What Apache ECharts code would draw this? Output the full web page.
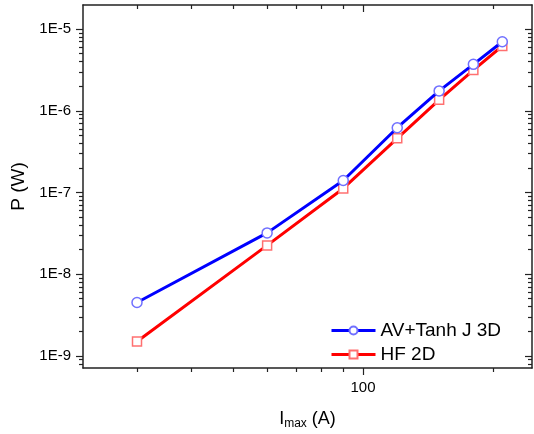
<!DOCTYPE html>
<html>
<head>
<meta charset="utf-8">
<script src="https://cdn.jsdelivr.net/npm/echarts@6/dist/echarts.min.js"></script>
<style>
    html, body {margin: 0; padding: 0; background: #fff;}
    #chart {width: 534px; height: 434px;}
</style>
</head>
<body>
<div id="chart"></div>
<script>
// 横轴: I_max (A)
var currents = [30, 60, 90, 120, 150, 180, 210];
// 纵轴: P (W)
var powerAV = [4.5e-9, 3.2e-8, 1.4e-7, 6.2e-7, 1.75e-6, 3.7e-6, 7.0e-6];
var powerHF = [1.5e-9, 2.25e-8, 1.12e-7, 4.6e-7, 1.36e-6, 3.15e-6, 6.2e-6];
var seriesNames = ['AV+Tanh J 3D', 'HF 2D'];

// 刻度
var xMajorTicks = [100];
var xMinorTicks = [30, 40, 50, 60, 70, 80, 90, 200];
var yMajorTicks = [1e-9, 1e-8, 1e-7, 1e-6, 1e-5];
var yDecades = [1e-10, 1e-9, 1e-8, 1e-7, 1e-6, 1e-5];
var yMinorSteps = [2, 3, 4, 5, 6, 7, 8, 9];

var xRange = [22.5, 246];
var yRange = [7.1e-10, 1.97e-5];
var font = 'Arial, "Liberation Sans", sans-serif';

var yMinorTicks = [];
yDecades.forEach(function (d) {
    yMinorSteps.forEach(function (s) {
        yMinorTicks.push(d * s);
    });
});

/**
 * 一条坐标轴(只画线和刻度)
 */
function makeAxis(range, position, ticks, len, inside, showLine) {
    return {
        type: 'log',
        logBase: 10,
        position: position,
        min: range[0],
        max: range[1],
        axisLine: {show: showLine, onZero: false, lineStyle: {color: '#222', width: 1.5}},
        axisTick: {show: true, inside: inside, length: len, customValues: ticks,
            lineStyle: {color: '#222', width: 1.2}},
        axisLabel: {show: false},
        splitLine: {show: false}
    };
}

var xMain = makeAxis(xRange, 'bottom', xMajorTicks, 7, false, true);
xMain.axisLabel = {
    show: true, customValues: xMajorTicks, margin: 12,
    color: '#000', fontSize: 15, fontFamily: font
};
xMain.name = '{i|I}{s|max}{i| (A)}';
xMain.nameLocation = 'middle';
xMain.nameGap = 40;
xMain.nameTextStyle = {
    rich: {
        i: {fontSize: 18, lineHeight: 22, verticalAlign: 'middle', color: '#000', fontFamily: font},
        s: {fontSize: 12, lineHeight: 12, verticalAlign: 'bottom', color: '#000', fontFamily: font}
    }
};

var yMain = makeAxis(yRange, 'left', yMajorTicks, 7, false, true);
yMain.axisLabel = {
    show: true, customValues: yMajorTicks, margin: 12,
    color: '#000', fontSize: 15, fontFamily: font,
    formatter: function (v) {
        return '1E' + Math.round(Math.log10(v));
    }
};
yMain.name = 'P (W)';
yMain.nameLocation = 'middle';
yMain.nameGap = 46;
yMain.nameTextStyle = {color: '#000', fontSize: 19, fontFamily: font};

var myChart = echarts.init(document.getElementById('chart'));
myChart.setOption({
    backgroundColor: '#fff',
    animation: false,
    grid: {left: 83, top: 5, right: 2, bottom: 66, outerBoundsMode: 'none'},
    legend: {
        orient: 'vertical',
        left: 325,
        top: 316,
        itemWidth: 44,
        itemHeight: 10,
        itemGap: 5,
        lineStyle: {width: 3},
        textStyle: {color: '#000', fontSize: 19, fontFamily: font},
        data: seriesNames
    },
    xAxis: [
        xMain,
        makeAxis(xRange, 'bottom', xMinorTicks, 4, false, false),
        makeAxis(xRange, 'top', xMajorTicks, 7, true, true),
        makeAxis(xRange, 'top', xMinorTicks, 4, true, false)
    ],
    yAxis: [
        yMain,
        makeAxis(yRange, 'left', yMinorTicks, 4, false, false),
        makeAxis(yRange, 'right', yMajorTicks, 7, true, true),
        makeAxis(yRange, 'right', yMinorTicks, 4, true, false)
    ],
    series: [
        {
            name: seriesNames[0],
            type: 'line',
            data: currents.map(function (x, i) { return [x, powerAV[i]]; }),
            symbol: 'circle',
            symbolSize: 10,
            lineStyle: {color: '#0000ff', width: 3},
            itemStyle: {color: '#fff', borderColor: '#7070ff', borderWidth: 1.5},
            z: 3
        },
        {
            name: seriesNames[1],
            type: 'line',
            data: currents.map(function (x, i) { return [x, powerHF[i]]; }),
            symbol: 'rect',
            symbolSize: 9,
            lineStyle: {color: '#ff0000', width: 3},
            itemStyle: {color: '#fff', borderColor: '#ff7070', borderWidth: 1.5},
            z: 2
        }
    ]
});
</script>
</body>
</html>
